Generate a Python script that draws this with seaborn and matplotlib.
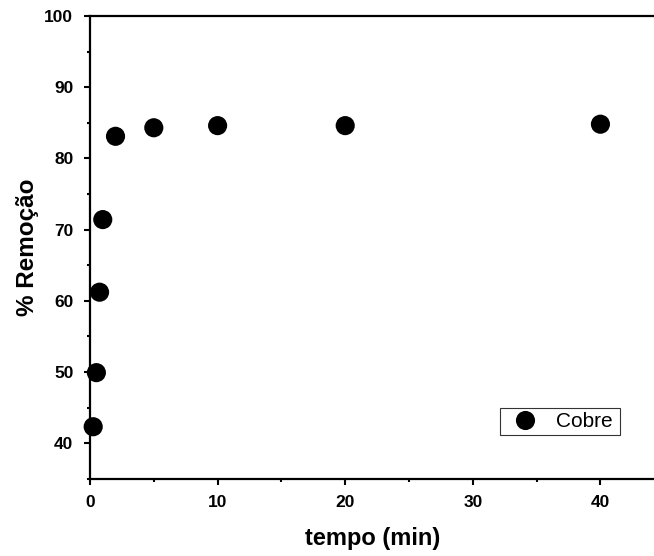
import matplotlib
matplotlib.use("Agg")
import matplotlib.pyplot as plt
import seaborn as sns
import pandas as pd
from matplotlib.ticker import MultipleLocator

tempo = [0.25, 0.5, 0.75, 1, 2, 5, 10, 20, 40]
remocao = [42.3, 49.9, 61.2, 71.4, 83.1, 84.3, 84.6, 84.6, 84.8]
series = ["Cobre"] * len(tempo)

df = pd.DataFrame({"tempo": tempo, "remocao": remocao, "serie": series})

sns.set_theme(style="ticks")
plt.rcParams['font.family'] = ['Liberation Sans', 'DejaVu Sans']
plt.rcParams.update({"text.color": "black", "axes.labelcolor": "black",
                     "xtick.color": "black", "ytick.color": "black"})

fig = plt.figure(figsize=(6.54, 5.56), dpi=100)
ax = fig.add_axes([90/654, 77.3/556, 1 - 90/654 + 0.002, (478.7-16)/556])

sns.scatterplot(data=df, x="tempo", y="remocao", hue="serie", palette=["black"],
                s=190, edgecolor="black", linewidth=0, ax=ax, clip_on=False, zorder=3)

ax.set_xlim(0, 44.3)
ax.set_ylim(35, 100)
ax.xaxis.set_major_locator(MultipleLocator(10))
ax.xaxis.set_minor_locator(MultipleLocator(5))
ax.yaxis.set_major_locator(MultipleLocator(10))
ax.yaxis.set_minor_locator(MultipleLocator(5))
ax.tick_params(which="major", direction="out", length=4, width=1.5, labelsize=12.5, colors="black")
ax.tick_params(axis="y", which="major", pad=8)
ax.tick_params(axis="x", which="major", pad=8)
ax.tick_params(which="minor", direction="out", length=2.5, width=1.5)
for lab in ax.get_xticklabels() + ax.get_yticklabels():
    lab.set_fontweight("bold")

for side in ["left", "bottom", "top"]:
    ax.spines[side].set_linewidth(1.6)
    ax.spines[side].set_color("black")
    ax.spines[side].set_zorder(4)
ax.spines["right"].set_visible(False)

ax.set_xlabel("tempo (min)", fontsize=17, fontweight="bold", labelpad=12)
ax.set_ylabel("% Remoção", fontsize=17.5, fontweight="bold", labelpad=4)

leg = ax.legend(loc="lower left", bbox_to_anchor=((499-90)/564, (478.7-435.3)/462.7, (619-499)/564, 30/462.7),
                mode="expand", frameon=True, fancybox=False, fontsize=15, handletextpad=0.5,
                borderpad=0.2, borderaxespad=0, markerscale=1.0)
leg.get_frame().set_edgecolor("black")
leg.get_frame().set_linewidth(0.8)
leg.set_title(None)

fig.savefig("out.png", dpi=100)
